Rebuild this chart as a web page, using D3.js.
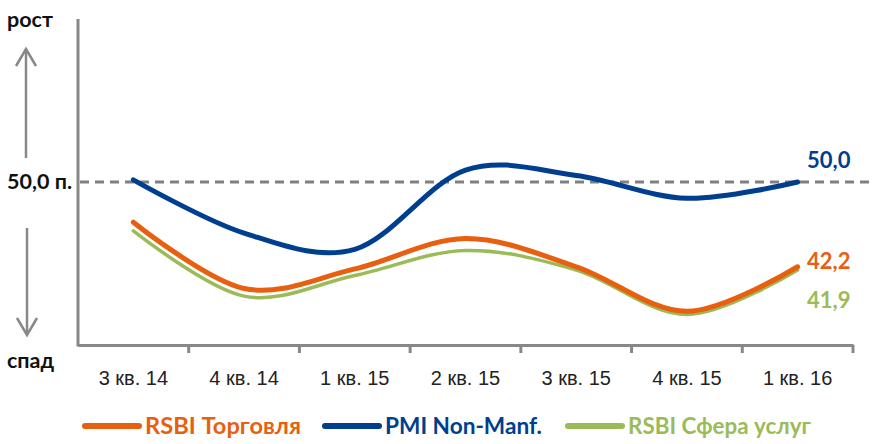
<!DOCTYPE html>
<html>
<head>
<meta charset="utf-8">
<script src="https://cdn.jsdelivr.net/npm/d3@7"></script>
<style>
  body { margin: 0; background: #fff; }
  svg { display: block; font-family: Lato, "Open Sans", sans-serif; }
</style>
</head>
<body>
<svg width="872" height="444"></svg>
<script>
// quarters
const quarters = ["3 кв. 14", "4 кв. 14", "1 кв. 15", "2 кв. 15", "3 кв. 15", "4 кв. 15", "1 кв. 16"];

// index values
const rsbiTrade = [46.3, 40.2, 42.0, 44.8, 42.2, 38.1, 42.2];
const pmiNonManf = [50.2, 45.3, 43.8, 51.1, 50.6, 48.5, 50.0];
const rsbiServices = [45.5, 39.5, 41.4, 43.7, 41.9, 37.8, 41.9];

const seriesNames = ["RSBI Торговля", "PMI Non-Manf.", "RSBI Сфера услуг"];
const endLabels = ["42,2", "50,0", "41,9"];
const threshold = 50;

const colors = ["#E8600F", "#003F8F", "#9BBB59"];
const widths = [5, 5, 3.5];

const svg = d3.select("svg");

const x = d3.scaleBand().domain(quarters).range([78, 853]);
const y = d3.scaleLinear().domain([35, 65]).range([345, 19]);

const axisColor = "#888";

// y axis line
svg.append("line")
    .attr("x1", 78).attr("x2", 78)
    .attr("y1", y(65)).attr("y2", y(35) + 1.5)
    .attr("stroke", axisColor).attr("stroke-width", 3);

// x axis
const xAxis = svg.append("g")
    .attr("transform", "translate(0," + y(35) + ")")
    .call(d3.axisBottom(x).tickSize(0).tickPadding(26));
xAxis.select(".domain").attr("stroke", axisColor).attr("stroke-width", 3);
xAxis.selectAll("text")
    .attr("font-size", 20)
    .attr("fill", "#222");

// band boundary ticks
const bounds = quarters.map(q => x(q)).concat([x.range()[1]]);
svg.selectAll(".btick")
    .data(bounds.slice(1))
    .enter()
    .append("line")
    .attr("class", "btick")
    .attr("x1", d => d).attr("x2", d => d)
    .attr("y1", y(35)).attr("y2", y(35) + 8)
    .attr("stroke", axisColor).attr("stroke-width", 3);

// 50 threshold
svg.append("line")
    .attr("x1", 80).attr("x2", 872)
    .attr("y1", y(threshold)).attr("y2", y(threshold))
    .attr("stroke", "#808080").attr("stroke-width", 3)
    .attr("stroke-dasharray", "9,6");

// left side annotations
svg.append("text").attr("x", 7).attr("y", 27)
    .attr("font-size", 21.5).attr("font-weight", "bold").attr("fill", "#111")
    .text("рост");
svg.append("text").attr("x", 7).attr("y", y(threshold) + 7)
    .attr("font-size", 21.5).attr("font-weight", "bold").attr("fill", "#111")
    .text("50,0 п.");
svg.append("text").attr("x", 7).attr("y", 368)
    .attr("font-size", 21.5).attr("font-weight", "bold").attr("fill", "#111")
    .text("спад");

function arrow(x0, yFrom, yTo) {
  const dir = yTo < yFrom ? 1 : -1;
  svg.append("line")
      .attr("x1", x0).attr("x2", x0)
      .attr("y1", yFrom).attr("y2", yTo)
      .attr("stroke", axisColor).attr("stroke-width", 2.5);
  svg.append("path")
      .attr("d", "M" + (x0 - 10) + "," + (yTo + dir * 17) + " L" + x0 + "," + yTo + " L" + (x0 + 10) + "," + (yTo + dir * 17))
      .attr("fill", "none")
      .attr("stroke", axisColor).attr("stroke-width", 2.5);
}
arrow(26, 158, 49);
arrow(27, 228, 335);

// lines
const allSeries = [rsbiTrade, pmiNonManf, rsbiServices];
const line = d3.line()
    .x((d, i) => x(quarters[i]) + x.bandwidth() / 2)
    .y(d => y(d))
    .curve(d3.curveCardinal.tension(0));

const drawOrder = [2, 0, 1];
drawOrder.forEach(k => {
  svg.append("path")
      .datum(allSeries[k])
      .attr("d", line)
      .attr("fill", "none")
      .attr("stroke", colors[k])
      .attr("stroke-width", widths[k])
      .attr("stroke-linecap", "round");
});

// end labels
const labelY = [261, 160, 300];
allSeries.forEach((s, k) => {
  svg.append("text")
      .attr("x", 807)
      .attr("y", labelY[k] + 8)
      .attr("font-size", 22)
      .attr("font-weight", "bold")
      .attr("fill", colors[k])
      .text(endLabels[k]);
});

// legend
const legendX = [85, 325, 568];
const legendW = [156, 157, 183];
seriesNames.forEach((name, k) => {
  const g = svg.append("g").attr("transform", "translate(" + legendX[k] + ",426)");
  g.append("line")
      .attr("x1", 0).attr("x2", 54)
      .attr("stroke", colors[k]).attr("stroke-width", 6)
      .attr("stroke-linecap", "round");
  g.append("text")
      .attr("x", 60).attr("y", 8)
      .attr("font-size", 22).attr("font-weight", "bold")
      .attr("fill", colors[k])
      .attr("textLength", legendW[k])
      .attr("lengthAdjust", "spacingAndGlyphs")
      .text(name);
});
</script>
</body>
</html>
